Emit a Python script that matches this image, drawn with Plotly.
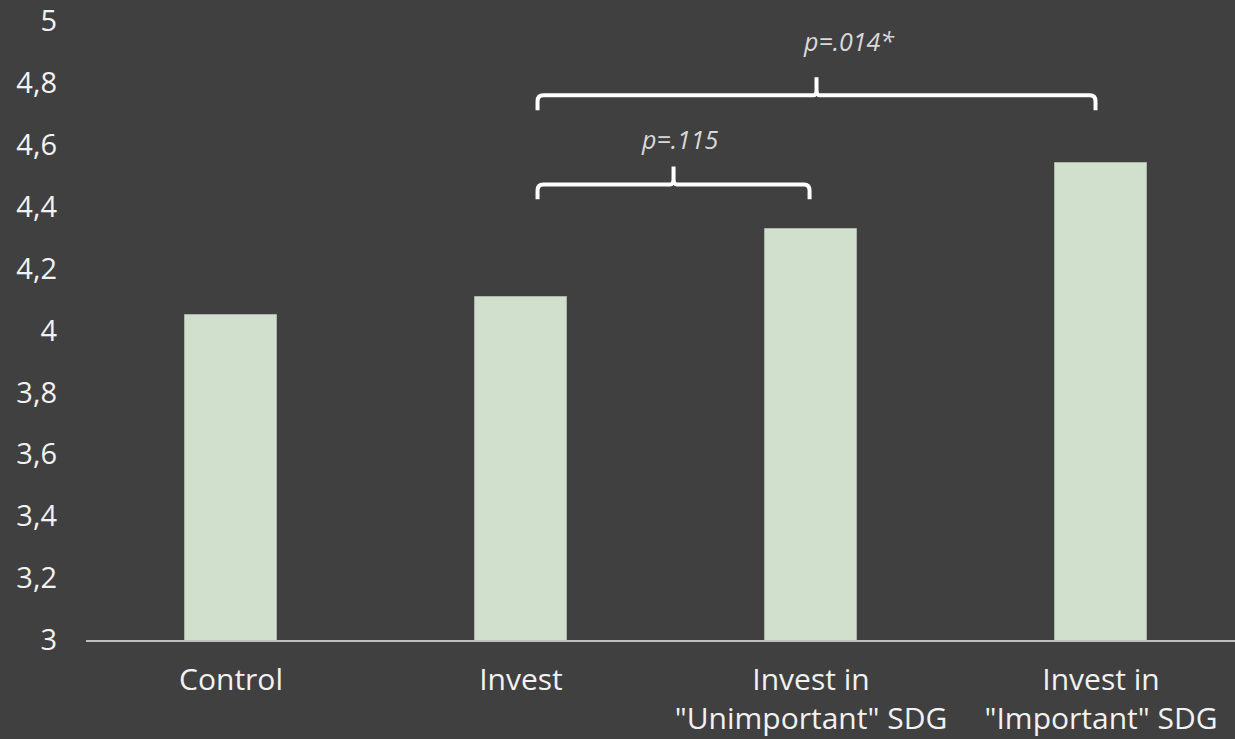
import plotly.graph_objects as go

categories = ["Control", "Invest", "Invest in<br>\"Unimportant\" SDG", "Invest in<br>\"Important\" SDG"]
values = [4.05, 4.108, 4.327, 4.54]
y_ticks = [3, 3.2, 3.4, 3.6, 3.8, 4, 4.2, 4.4, 4.6, 4.8, 5]

# comparison braces: from category position, to category position, level
brace_from = [1.057, 1.057]
brace_to = [1.995, 2.981]
brace_level = [4.472, 4.760]
brace_labels = ["p=.115", "p=.014*"]
label_x = [1.548, 2.129]
label_y = [4.620, 4.936]

BG = "#404040"
BAR = "#d0e0cd"
TXT = "#f2f2f2"
FONT = "Open Sans"

x = list(range(len(categories)))

fig = go.Figure()
fig.add_trace(go.Bar(
    x=x, y=values, width=0.314,
    marker=dict(color=BAR, line=dict(color="#a9b8a6", width=1)),
    hoverinfo="skip", showlegend=False,
))

def brace_path(x0, x1, yh):
    xm = (x0 + x1) / 2
    yb = yh - 0.048
    yt = yh + 0.058
    rx, ry = 0.02, 0.019
    return (f"M {x0},{yb} L {x0},{yh-ry} Q {x0},{yh} {x0+rx},{yh} "
            f"L {xm-rx*0.6},{yh} Q {xm},{yh} {xm},{yh+ry} L {xm},{yt} "
            f"M {xm},{yh+ry} Q {xm},{yh} {xm+rx*0.6},{yh} "
            f"L {x1-rx},{yh} Q {x1},{yh} {x1},{yh-ry} L {x1},{yb}")

for x0, x1, yh in zip(brace_from, brace_to, brace_level):
    fig.add_shape(type="path", xref="x", yref="y", path=brace_path(x0, x1, yh),
                  line=dict(color="#ffffff", width=4), layer="above")

for t, lx, ly in zip(brace_labels, label_x, label_y):
    fig.add_annotation(x=lx, y=ly, xref="x", yref="y", text=f"<i>{t}</i>",
                       showarrow=False, font=dict(family=FONT, size=25, color="#d9d9d9"))

fig.update_layout(
    width=1235, height=739,
    margin=dict(l=86, r=0, t=19, b=99),
    paper_bgcolor=BG, plot_bgcolor=BG,
    separators=",.",
    font=dict(family=FONT, color=TXT, size=30),
    bargap=0,
)
fig.update_xaxes(
    range=[-0.5, 3.462], tickvals=x, ticktext=categories,
    showgrid=False, zeroline=False,
    showline=True, linecolor="#bfbfbf", linewidth=2,
    ticks="", ticklabelstandoff=12, ticklabeloverflow="allow",
    tickfont=dict(family=FONT, size=30, color=TXT),
)
fig.update_yaxes(
    range=[3, 5], tickvals=y_ticks, showgrid=False, zeroline=False,
    showline=False, ticks="", ticklabelstandoff=28, ticklabeloverflow="allow",
    tickfont=dict(family=FONT, size=29, color=TXT),
)

fig.write_html("out.html")
